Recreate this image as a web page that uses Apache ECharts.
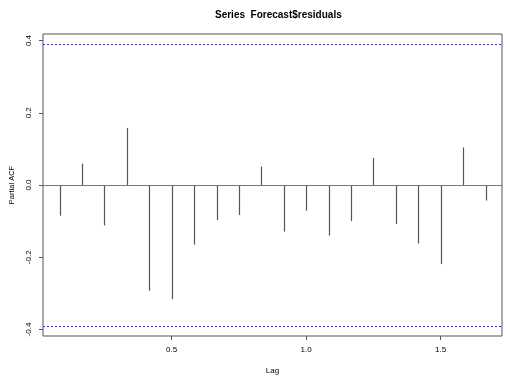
<!DOCTYPE html>
<html>
<head>
<meta charset="utf-8">
<script src="https://cdn.jsdelivr.net/npm/echarts@6/dist/echarts.min.js"></script>
<style>html,body{margin:0;padding:0;background:#fff}#c{width:510px;height:380px}</style>
</head>
<body>
<div id="c"></div>
<script>
var lags = [1/12,2/12,3/12,4/12,5/12,6/12,7/12,8/12,9/12,10/12,11/12,12/12,13/12,14/12,15/12,16/12,17/12,18/12,19/12,20/12];
var pacf = [-0.085,0.059,-0.112,0.158,-0.293,-0.316,-0.165,-0.097,-0.083,0.051,-0.129,-0.071,-0.140,-0.100,0.075,-0.108,-0.162,-0.219,0.104,-0.043];
var ciBound = 0.386;
var yTicks = [-0.4,-0.2,0.0,0.2,0.4];
var xTicks = [0.5,1.0,1.5];
var titleText = 'Series  Forecast$residuals';

var data = lags.map(function(l,i){return [l,pacf[i]];});
var chart = echarts.init(document.getElementById('c'), null, {renderer:'canvas'});
var font = 'Liberation Sans, Arial, sans-serif';
chart.setOption({
  animation:false,
  backgroundColor:'#fff',
  title:{text:titleText,left:210,top:5,textStyle:{fontFamily:font,fontSize:10,fontWeight:'bold',color:'#000'}},
  grid:{left:43,right:8,top:34,bottom:44,show:true,borderColor:'#555',borderWidth:1,backgroundColor:'transparent'},
  xAxis:{type:'value',min:0.0216,max:1.728,
    name:'Lag',nameLocation:'middle',nameGap:31,nameTextStyle:{fontFamily:font,fontSize:8,color:'#000'},
    axisLine:{show:false,onZero:false},splitLine:{show:false},
    axisTick:{show:true,inside:false,length:4,customValues:xTicks,lineStyle:{color:'#555'}},
    axisLabel:{customValues:xTicks,margin:10,fontFamily:font,fontSize:8,color:'#000',formatter:function(v){return v.toFixed(1);}}
  },
  yAxis:{type:'value',min:-0.418,max:0.418,
    name:'Partial ACF',nameLocation:'middle',nameGap:27,nameRotate:90,nameTextStyle:{fontFamily:font,fontSize:7.5,color:'#000'},
    axisLine:{show:false,onZero:false},splitLine:{show:false},
    axisTick:{show:true,inside:false,length:4,customValues:yTicks,lineStyle:{color:'#555'}},
    axisLabel:{customValues:yTicks,rotate:90,margin:10,fontFamily:font,fontSize:8,color:'#000',formatter:function(v){return v.toFixed(1);}}
  },
  series:[{
    type:'custom',
    data:data,
    renderItem:function(params,api){
      var p0 = api.coord([api.value(0),0]);
      var p1 = api.coord([api.value(0),api.value(1)]);
      var x = Math.round(p0[0])+0.5;
      return {type:'line',shape:{x1:x,y1:p0[1],x2:x,y2:p1[1]},style:{stroke:'#555',lineWidth:1.2}};
    },
    markLine:{silent:true,symbol:'none',label:{show:false},
      data:[
        {yAxis:0,lineStyle:{color:'#777',type:'solid',width:1}},
        {yAxis:ciBound,lineStyle:{color:'#3333cc',type:[2,2],width:1}},
        {yAxis:-ciBound,lineStyle:{color:'#3333cc',type:[2,2],width:1}}
      ]}
  }]
});
</script>
</body>
</html>
